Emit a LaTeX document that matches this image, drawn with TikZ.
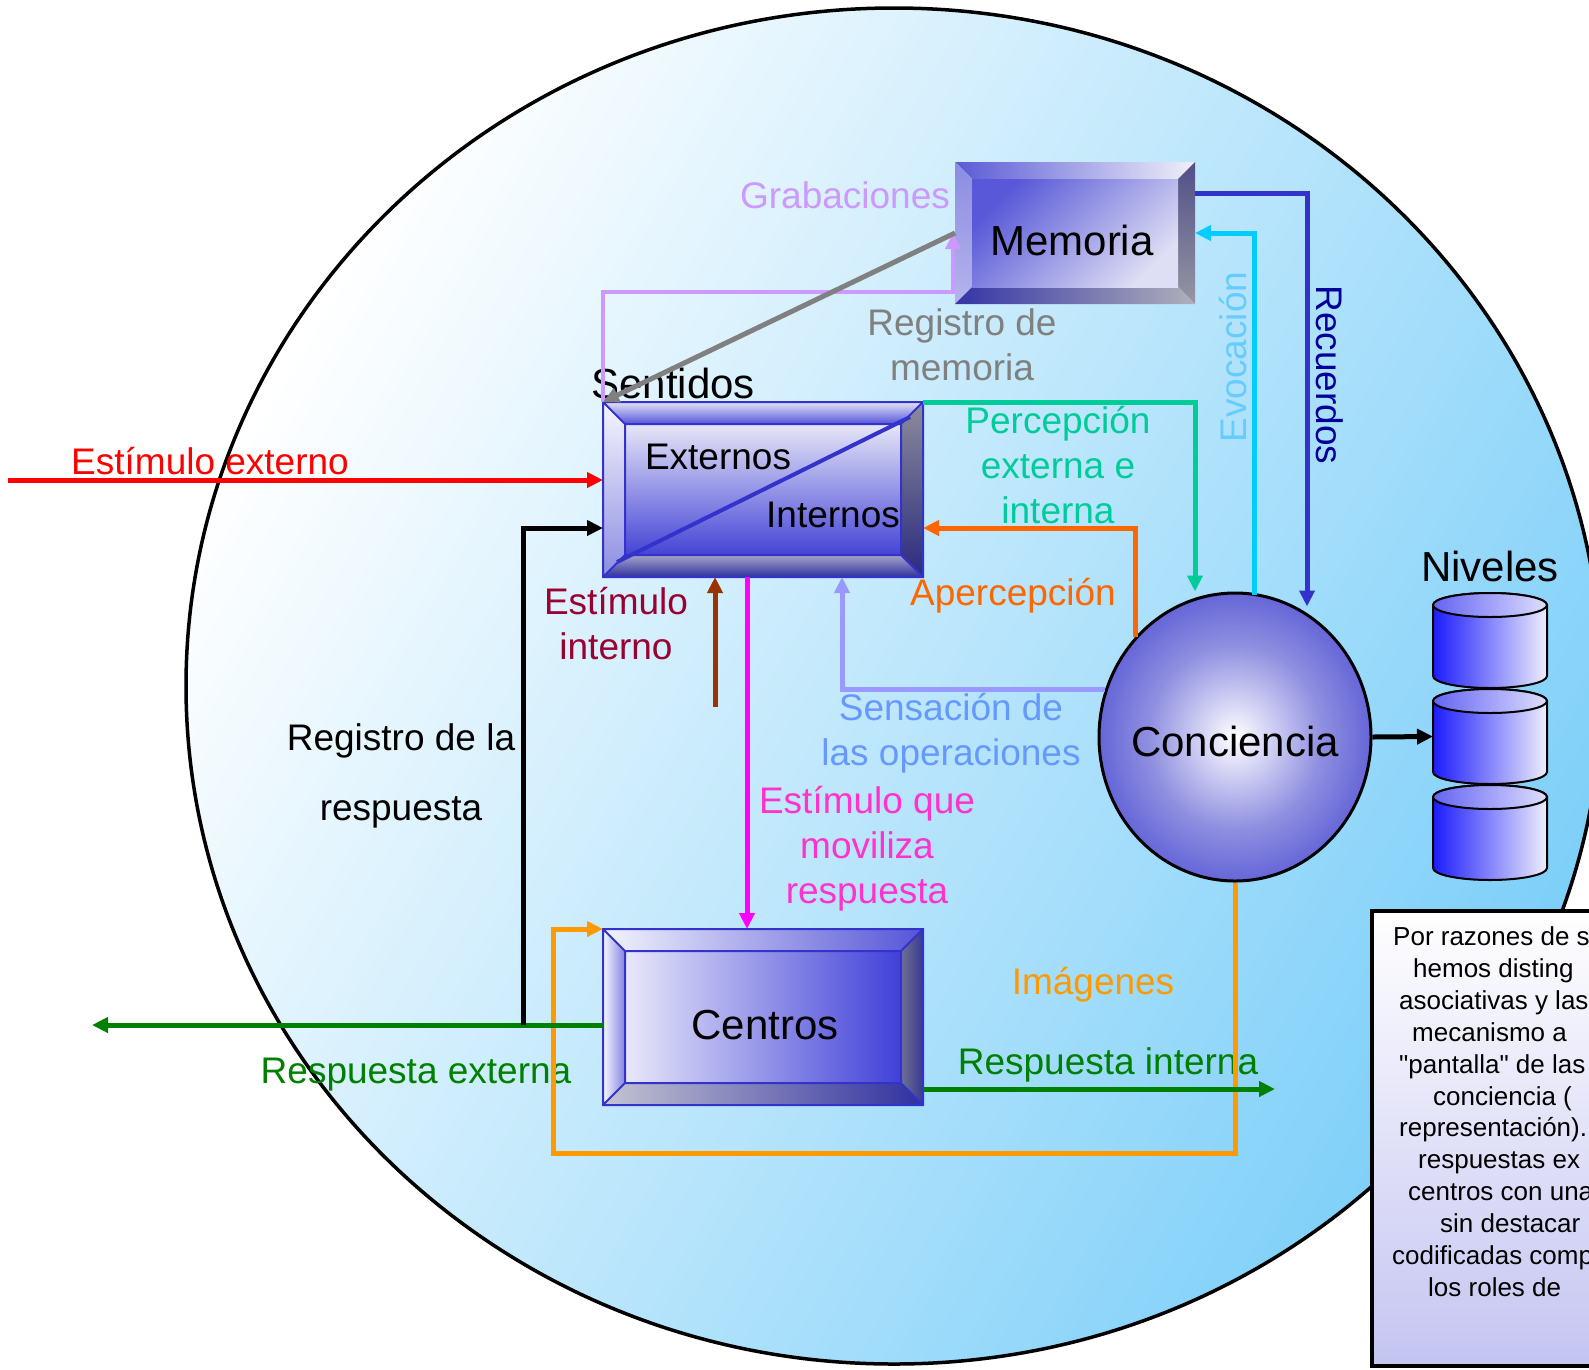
\documentclass[tikz,border=0pt]{standalone}
\usepackage{fontspec}
\setmainfont{Liberation Sans}
\usepackage{tikz}
\usetikzlibrary{arrows.meta, calc, positioning, shapes.geometric}

\definecolor{fieldblue}{HTML}{7DCFF9}
\definecolor{grabcol}{HTML}{CC99FF}
\definecolor{regcol}{HTML}{808080}
\definecolor{respcol}{HTML}{008000}
\definecolor{intline}{HTML}{993300}
\definecolor{inttext}{HTML}{990033}
\definecolor{magline}{HTML}{FF00FF}
\definecolor{magtext}{HTML}{FF33CC}
\definecolor{sensline}{HTML}{9999FF}
\definecolor{senstext}{HTML}{6699FF}
\definecolor{apercol}{HTML}{FF6600}
\definecolor{perccol}{HTML}{00CC99}
\definecolor{evocline}{HTML}{00CCFF}
\definecolor{evoctext}{HTML}{66CCFF}
\definecolor{recline}{HTML}{3333CC}
\definecolor{rectext}{HTML}{000099}
\definecolor{imgcol}{HTML}{FF9900}
\definecolor{edgeblue}{HTML}{3333CC}
\definecolor{notecol}{HTML}{C4C4F2}

\pgfdeclareradialshading{concshade}{\pgfpoint{0bp}{0bp}}{rgb(0bp)=(1,1,1); rgb(5bp)=(0.86,0.86,0.97); rgb(16bp)=(0.56,0.56,0.88); rgb(30bp)=(0.31,0.31,0.83); rgb(50bp)=(0.29,0.29,0.82)}

\tikzset{
    conn/.style={line width=5pt, -{Triangle[length=16pt,width=15pt]}},
    lbl/.style={font=\fontsize{37}{45}\selectfont, align=center, inner sep=0pt},
    boxtxt/.style={font=\fontsize{42}{50}\selectfont, inner sep=0pt},
    notetxt/.style={font=\fontsize{26}{32}\selectfont, inner sep=0pt, anchor=west, text height=19pt, text depth=6pt},
    box/.style={rectangle, inner sep=0pt, outer sep=0pt},
    levbox/.style={rectangle, inner sep=0pt, outer sep=0pt, minimum width=114pt, minimum height=71pt},
    % faces of the bevelled boxes
    mem-face/.style={top color={rgb,255:red,88;green,88;blue,216}, bottom color={rgb,255:red,222;green,222;blue,244}, shading angle=45},
    mem-top/.style={left color={rgb,255:red,90;green,90;blue,214}, right color={rgb,255:red,240;green,240;blue,250}},
    mem-left/.style={top color={rgb,255:red,140;green,140;blue,226}, bottom color={rgb,255:red,180;green,180;blue,236}},
    mem-right/.style={top color={rgb,255:red,80;green,80;blue,136}, bottom color={rgb,255:red,150;green,150;blue,164}},
    mem-bottom/.style={left color={rgb,255:red,52;green,52;blue,166}, right color={rgb,255:red,176;green,176;blue,186}},
    mem-edge/.style={},
    sent-face/.style={top color={rgb,255:red,230;green,230;blue,248}, bottom color={rgb,255:red,68;green,68;blue,214}},
    sent-top/.style={top color={rgb,255:red,226;green,226;blue,246}, bottom color={rgb,255:red,84;green,84;blue,220}},
    sent-left/.style={top color={rgb,255:red,246;green,246;blue,254}, bottom color={rgb,255:red,140;green,140;blue,226}},
    sent-right/.style={top color={rgb,255:red,140;green,140;blue,154}, bottom color={rgb,255:red,42;green,42;blue,128}},
    sent-bottom/.style={top color={rgb,255:red,164;green,164;blue,200}, bottom color={rgb,255:red,48;green,48;blue,160}},
    sent-edge/.style={draw=edgeblue, line width=2pt},
    cent-face/.style={left color={rgb,255:red,232;green,232;blue,250}, right color={rgb,255:red,64;green,64;blue,216}},
    cent-top/.style={left color={rgb,255:red,244;green,244;blue,252}, right color={rgb,255:red,84;green,84;blue,216}},
    cent-left/.style={left color={rgb,255:red,248;green,248;blue,255}, right color={rgb,255:red,130;green,130;blue,226}},
    cent-right/.style={left color={rgb,255:red,112;green,112;blue,148}, right color={rgb,255:red,56;green,56;blue,146}},
    cent-bottom/.style={left color={rgb,255:red,196;green,196;blue,210}, right color={rgb,255:red,48;green,48;blue,160}},
    cent-edge/.style={draw=edgeblue, line width=2pt},
}

% bevelled box drawn over a named node: #1 node, #2 bevel, #3 style prefix
\newcommand{\bevelbox}[3]{%
    \coordinate (#1-nw) at ($(#1.north west)+(#2,#2)$);
    \coordinate (#1-ne) at ($(#1.north east)+(-#2,#2)$);
    \coordinate (#1-se) at ($(#1.south east)+(-#2,-#2)$);
    \coordinate (#1-sw) at ($(#1.south west)+(#2,-#2)$);
    \path[#3-top] (#1.north west) -- (#1.north east) -- (#1-ne) -- (#1-nw) -- cycle;
    \path[#3-left] (#1.north west) -- (#1-nw) -- (#1-sw) -- (#1.south west) -- cycle;
    \path[#3-right] (#1.north east) -- (#1.south east) -- (#1-se) -- (#1-ne) -- cycle;
    \path[#3-bottom] (#1.south west) -- (#1-sw) -- (#1-se) -- (#1.south east) -- cycle;
    \path[#3-face] (#1-nw) rectangle (#1-se);
    \path[#3-edge] (#1.north west) rectangle (#1.south east) (#1-nw) rectangle (#1-se)
        (#1.north west) -- (#1-nw) (#1.north east) -- (#1-ne)
        (#1.south east) -- (#1-se) (#1.south west) -- (#1-sw);
}

\begin{document}
\begin{tikzpicture}[x=1pt, y=-1pt]
    \useasboundingbox (0,0) rectangle (1589,1369);
    \draw[line width=3.5pt, top color=white, bottom color=fieldblue, shading angle=60] (894,686) ellipse [x radius=708pt, y radius=678pt];

    \node[box, minimum width=240pt, minimum height=142pt] (mem) at (1075,233) {};
    \node[box, minimum width=320pt, minimum height=175pt] (sent) at (763,489.5) {};
    \node[box, minimum width=320pt, minimum height=176pt] (cent) at (763,1017) {};
    \bevelbox{mem}{17}{mem}
    \bevelbox{sent}{22}{sent}
    \bevelbox{cent}{22}{cent}
    \draw[edgeblue, line width=4pt] ($(sent.south west)+(14,-15)$) -- ($(sent.north east)+(-13,15)$);

    \node[ellipse, shade, shading=concshade, draw=black, line width=3pt, minimum width=272pt, minimum height=288pt, inner sep=0pt] (conc) at (1235,737) {};

    \foreach \n/\yc in {1/640.5, 2/736.5, 3/832.5}
        \node[levbox] (lev\n) at (1490,\yc) {};
    \foreach \n in {1,2,3} {
        \draw[line width=2pt, left color={rgb,255:red,28;green,28;blue,252}, right color={rgb,255:red,238;green,238;blue,252}]
            (lev\n.north west) -- (lev\n.south west) arc[start angle=180, end angle=360, x radius=57pt, y radius=12pt]
            -- (lev\n.north east) arc[start angle=0, end angle=180, x radius=57pt, y radius=12pt] -- cycle;
        \draw[line width=2pt, left color={rgb,255:red,100;green,100;blue,244}, right color={rgb,255:red,222;green,222;blue,252}]
            (lev\n.north) ellipse [x radius=57pt, y radius=12pt];
    }

    % labels
    \node[boxtxt] (memtxt) at (1072,240) {Memoria};
    \node[boxtxt] (senttxt) at (673,383) {Sentidos};
    \node[boxtxt] (centtxt) at (765,1025) {Centros};
    \node[boxtxt] (conctxt) at (1235,741) {Conciencia};
    \node[boxtxt] (nivtxt) at (1490,566) {Niveles};
    \node[lbl] (exttxt) at (718,457) {Externos};
    \node[lbl] (inttxt) at (833,515) {Internos};
    \node[lbl, grabcol] (grablbl) at (845,195) {Grabaciones};
    \node[lbl, regcol] (regmemlbl) at (962,345) {Registro de\\memoria};
    \node[lbl, red] (extlbl) at (210,461) {Estímulo externo};
    \node[lbl, perccol] (perclbl) at (1058,465) {Percepción\\externa e\\interna};
    \node[lbl, evoctext, rotate=90] (evoclbl) at (1233,357) {Evocación};
    \node[lbl, rectext, rotate=-90] (reclbl) at (1330,375) {Recuerdos};
    \node[lbl, apercol] (aperlbl) at (1013,596) {Apercepción};
    \node[lbl, inttext] (intlbl) at (616,624) {Estímulo\\interno};
    \node[lbl, senstext] (senslbl) at (951,733) {Sensación de\\las operaciones};
    \node[lbl, font=\fontsize{37}{70}\selectfont] (reglbl) at (401,776) {Registro de la\\respuesta};
    \node[lbl, magtext] (movlbl) at (867,849) {Estímulo que\\moviliza\\respuesta};
    \node[lbl, imgcol] (imglbl) at (1093,985) {Imágenes};
    \node[lbl, respcol] (rintlbl) at (1108,1065) {Respuesta interna};
    \node[lbl, respcol] (rextlbl) at (416,1075) {Respuesta externa};

    % connectors
    \coordinate (extin) at (8,480);
    \coordinate (intin) at (715,707);
    \coordinate (regbase) at (523,1025);
    \coordinate (extout) at (92,1025);
    \coordinate (intout) at (1275,1089);
    \draw[conn, red] (extin) -- ($(sent.west)+(0,-9.5)$);
    \draw[conn, intline] (intin) -- (intin |- sent.south);
    \draw[conn, magline] ($(sent.south west)+(144,0)$) -- ($(cent.north west)+(144,0)$);
    \draw[conn, sensline] (conc.160) -| ($(sent.south west)+(239,0)$);
    \draw[conn, apercol] (conc.135) |- ($(sent.south east)+(0,-49)$);
    \draw[conn, perccol] (sent.north east) -| ($(conc.north)+(-40,0)$);
    \draw[conn, evocline] ($(conc.north)+(19,3)$) |- (mem.east);
    \draw[conn, recline] ($(mem.north east)+(0,31)$) -| ($(conc.north)+(72,15)$);
    \draw[conn, grabcol, line width=4pt] (sent.north west) |- ($(mem.south west)+(-2,-12)$) -- ($(mem.west)+(-2,0)$);
    \draw[conn, regcol] (mem.west) -- (sent.north west);
    \draw[conn, imgcol] (conc.south) |- ($(cent.south west)+(-50,48)$) |- (cent.north west);
    \draw[conn, respcol] ($(cent.south east)+(0,-16)$) -- (intout);
    \draw[conn, respcol] ($(cent.west)+(0,8)$) -- (extout);
    \draw[conn, black] (regbase) |- ($(sent.south west)+(0,-49)$);
    \draw[conn, black] (conc.east) -- (lev2.west);

    % note, cut by the page edge
    \node[draw=black, line width=4pt, top color=white, bottom color=notecol, minimum width=320pt, minimum height=455pt, anchor=north west] (nota) at (1370,909) {};
    \foreach \x/\y/\t [count=\i] in {1393/939/{Por razones de s}, 1413/971/{hemos disting}, 1399/1003/{asociativas y las}, 1412/1035/{mecanismo a}, 1399/1067/{\textquotedbl pantalla\textquotedbl{} de las}, 1433/1099/{conciencia (}, 1399/1130/{representación).}, 1418/1162/{respuestas ex}, 1408/1194/{centros con una}, 1440/1226/{sin destacar}, 1392/1258/{codificadas comp}, 1428/1290/{los roles de}}
        \node[notetxt] (nt\i) at (\x,\y) {\t};
\end{tikzpicture}
\end{document}
